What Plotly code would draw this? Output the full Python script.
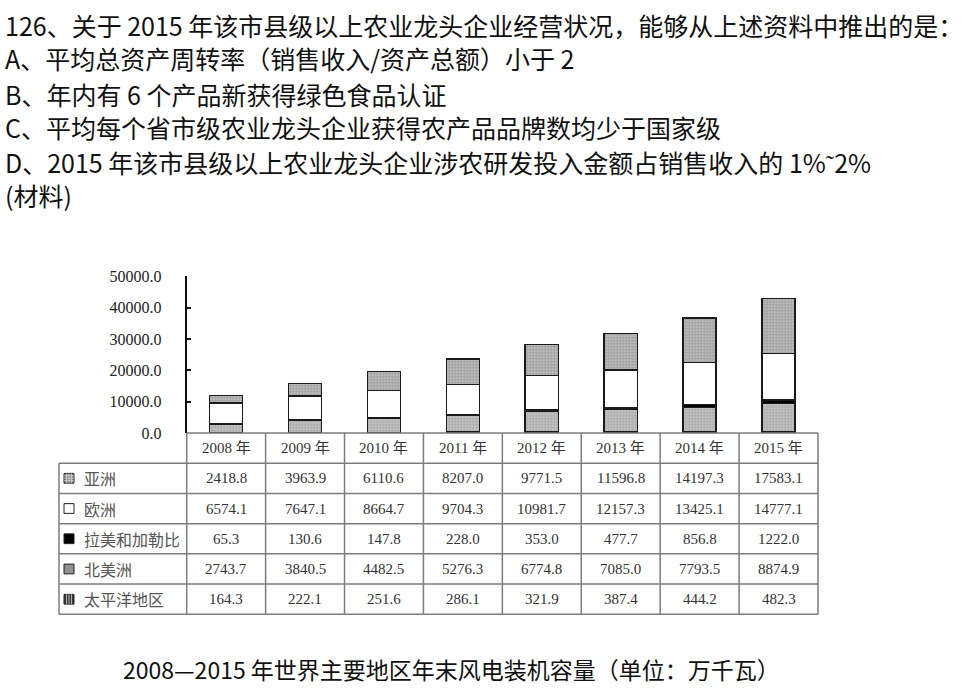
import plotly.graph_objects as go

# ---------------- data ----------------
years = ["2008 年", "2009 年", "2010 年", "2011 年", "2012 年", "2013 年", "2014 年", "2015 年"]
region_names = ["亚洲", "欧洲", "拉美和加勒比", "北美洲", "太平洋地区"]
asia = [2418.8, 3963.9, 6110.6, 8207.0, 9771.5, 11596.8, 14197.3, 17583.1]
europe = [6574.1, 7647.1, 8664.7, 9704.3, 10981.7, 12157.3, 13425.1, 14777.1]
latam = [65.3, 130.6, 147.8, 228.0, 353.0, 477.7, 856.8, 1222.0]
namerica = [2743.7, 3840.5, 4482.5, 5276.3, 6774.8, 7085.0, 7793.5, 8874.9]
pacific = [164.3, 222.1, 251.6, 286.1, 321.9, 387.4, 444.2, 482.3]
y_ticks = [0, 10000, 20000, 30000, 40000, 50000]

question_lines = [
    "126、关于 2015 年该市县级以上农业龙头企业经营状况，能够从上述资料中推出的是：",
    "A、平均总资产周转率（销售收入/资产总额）小于 2",
    "B、年内有 6 个产品新获得绿色食品认证",
    "C、平均每个省市级农业龙头企业获得农产品品牌数均少于国家级",
    "D、2015 年该市县级以上农业龙头企业涉农研发投入金额占销售收入的 1%˜2%",
    "(材料)",
]
caption = "2008—2015 年世界主要地区年末风电装机容量（单位：万千瓦）"

# ---------------- layout helpers ----------------
W, H = 967, 698
def px(x):
    return x / W
def py(y):
    return 1 - y / H

AX_L, AX_R = 186.7, 818.0
Y_TOP, Y_BASE = 275.0, 435.7
TAB_L = 59.0
ROW_H = 31.0
HEAD_TOP = Y_BASE
ROW_TOP = HEAD_TOP + 30.8
TAB_BOT = ROW_TOP + 5 * ROW_H
col_w = (AX_R - AX_L) / len(years)

CJK = "Noto Sans CJK SC"
SERIF = "Liberation Serif, Noto Sans CJK SC"

series = {
    "亚洲": asia, "欧洲": europe, "拉美和加勒比": latam,
    "北美洲": namerica, "太平洋地区": pacific,
}
styles = {
    "太平洋地区": dict(color="#9a9a9a", pattern=dict(shape="|", fgcolor="#444", bgcolor="#b5b5b5", size=3, solidity=0.4)),
    "北美洲": dict(color="#bdbdbd", pattern=dict(shape=".", fgcolor="#7a7a7a", bgcolor="#c4c4c4", size=3, solidity=0.35)),
    "拉美和加勒比": dict(color="#000000"),
    "欧洲": dict(color="#ffffff"),
    "亚洲": dict(color="#b0b0b0", pattern=dict(shape="+", fgcolor="#6a6a6a", bgcolor="#bdbdbd", size=3, solidity=0.35)),
}

fig = go.Figure()
for name in ["太平洋地区", "北美洲", "拉美和加勒比", "欧洲", "亚洲"]:
    st = styles[name]
    marker = dict(color=st["color"], line=dict(color="#1a1a1a", width=1.5))
    if "pattern" in st:
        marker["pattern"] = st["pattern"]
    fig.add_trace(go.Bar(x=years, y=series[name], name=name, marker=marker,
                         showlegend=False, hoverinfo="x+y+name"))

shapes = []
annotations = []
line_col = "#7d7d7d"
lw = 1.5

def hline(x0, x1, y):
    shapes.append(dict(type="line", xref="paper", yref="paper", x0=px(x0), x1=px(x1),
                       y0=py(y), y1=py(y), line=dict(color=line_col, width=lw)))
def vline(x, y0, y1, color=line_col, width=lw):
    shapes.append(dict(type="line", xref="paper", yref="paper", x0=px(x), x1=px(x),
                       y0=py(y0), y1=py(y1), line=dict(color=color, width=width)))

# table grid
hline(AX_L, AX_R, HEAD_TOP)
for i in range(6):
    hline(TAB_L, AX_R, ROW_TOP + i * ROW_H)
vline(TAB_L, ROW_TOP, TAB_BOT)
vline(AX_L, HEAD_TOP, TAB_BOT)
for i in range(1, len(years) + 1):
    vline(AX_L + i * col_w, HEAD_TOP, TAB_BOT)

# header years
for yr in years:
    annotations.append(dict(x=yr, xref="x", y=py(HEAD_TOP + 15.5), yref="paper", text=yr,
                            xanchor="center", yanchor="middle",
                            showarrow=False, font=dict(family=SERIF, size=15, color="#333")))

# rows
for r, name in enumerate(region_names):
    yc = ROW_TOP + r * ROW_H + ROW_H / 2
    annotations.append(dict(x=px(82), xref="paper", y=py(yc), yref="paper", text=name,
                            xanchor="left", yanchor="middle", showarrow=False,
                            font=dict(family=CJK, size=16, color="#555")))
    for yr, v in zip(years, series[name]):
        annotations.append(dict(x=yr, xref="x", y=py(yc), yref="paper", text=f"{v:.1f}",
                                xanchor="center", yanchor="middle",
                                showarrow=False, font=dict(family=SERIF, size=15, color="#333")))
    # swatch
    sx0, sx1, sy0, sy1 = 64, 74, yc - 5, yc + 5
    fillc = {"亚洲": "#8c8c8c", "欧洲": "#ffffff", "拉美和加勒比": "#000000",
             "北美洲": "#8f8f8f", "太平洋地区": "#3a3a3a"}[name]
    shapes.append(dict(type="rect", xref="paper", yref="paper", x0=px(sx0), x1=px(sx1),
                       y0=py(sy1), y1=py(sy0), fillcolor=fillc,
                       line=dict(color="#222", width=1)))
    if name in ("亚洲", "太平洋地区"):
        for k in (1, 2, 3):
            xx = sx0 + k * 2.5
            shapes.append(dict(type="line", xref="paper", yref="paper", x0=px(xx), x1=px(xx),
                               y0=py(sy1), y1=py(sy0),
                               line=dict(color="#cfcfcf", width=0.8)))
    if name == "亚洲":
        for k in (1, 2, 3):
            yy = sy0 + k * 2.5
            shapes.append(dict(type="line", xref="paper", yref="paper", x0=px(sx0), x1=px(sx1),
                               y0=py(yy), y1=py(yy),
                               line=dict(color="#cfcfcf", width=0.8)))

# question text: three two-line blocks
group_y = [34, 105, 175]
for g, yy in enumerate(group_y):
    txt = "<br>".join(question_lines[2 * g:2 * g + 2])
    annotations.append(dict(x=px(3), xref="paper", y=py(yy), yref="paper", text=txt,
                            xanchor="left", yanchor="middle", align="left", showarrow=False,
                            font=dict(family=CJK, size=25, color="#111")))

# caption
annotations.append(dict(x=px(451), xref="paper", y=py(678), yref="paper", text=caption,
                        xanchor="center", yanchor="middle",
                        showarrow=False, font=dict(family=CJK, size=23, color="#111")))

fig.update_layout(
    width=W, height=H, autosize=False,
    margin=dict(l=0, r=0, t=0, b=0),
    paper_bgcolor="white", plot_bgcolor="white",
    barmode="stack", bargap=0.58,
    shapes=shapes, annotations=annotations,
    xaxis=dict(type="category", categoryorder="array", categoryarray=years,
               domain=[px(AX_L), px(AX_R)], range=[-0.5, len(years) - 0.5],
               visible=False),
    yaxis=dict(domain=[py(Y_BASE), py(Y_TOP)], range=[0, 50000],
               tickvals=y_ticks, tickformat=".1f",
               showline=True, linecolor="#111", linewidth=2,
               ticks="inside", ticklen=4, tickwidth=2, tickcolor="#111",
               showgrid=False, zeroline=False, ticklabelstandoff=20,
               tickfont=dict(family="Liberation Serif", size=16, color="#222")),
)

fig.write_html("out.html", config={"displayModeBar": False},
               post_script="document.body.style.margin='0';")
